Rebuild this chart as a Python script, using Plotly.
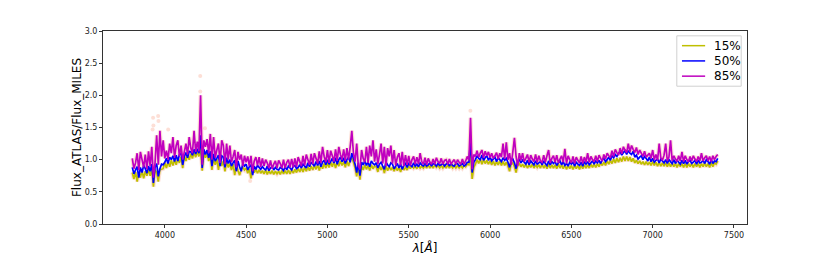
import numpy as np
import plotly.graph_objects as go

# wavelength grid, 10 A steps from 3800 to 7400
wave = np.arange(3800, 7401, 10)

# percentile ratios, one row per 100 A
p50 = [
    0.88, 0.78, 0.84, 0.89, 0.72, 0.88, 0.80, 0.91, 0.86, 0.79,
    0.90, 0.82, 0.93, 0.64, 0.88, 0.94, 0.74, 0.86, 0.93, 0.92,
    0.96, 1.02, 0.94, 1.04, 1.00, 1.06, 0.97, 1.07, 0.98, 1.08,
    1.10, 0.92, 1.05, 1.11, 1.03, 1.13, 1.12, 1.07, 1.16, 1.09,
    1.17, 1.10, 1.38, 0.87, 1.16, 1.08, 1.15, 1.03, 1.13, 0.90,
    1.09, 0.98, 1.02, 1.07, 0.90, 1.06, 1.04, 0.88, 1.03, 0.94,
    1.00, 0.90, 0.95, 0.99, 0.82, 0.98, 0.89, 0.82, 0.94, 0.90,
    0.93, 0.84, 0.89, 0.92, 0.76, 0.90, 0.85, 0.91, 0.88, 0.85,
    0.89, 0.86, 0.84, 0.90, 0.83, 0.87, 0.89, 0.84, 0.88, 0.85,
    0.84, 0.88, 0.86, 0.83, 0.89, 0.84, 0.90, 0.87, 0.84, 0.90,
    0.91, 0.86, 0.88, 0.92, 0.87, 0.93, 0.90, 0.87, 0.95, 0.89,
    0.96, 0.93, 0.90, 0.97, 0.91, 0.98, 0.89, 0.96, 0.99, 0.92,
    1.00, 0.93, 0.97, 1.02, 0.95, 1.03, 0.93, 1.00, 1.04, 0.97,
    1.03, 0.94, 1.00, 1.04, 0.96, 1.10, 1.02, 0.93, 0.80, 0.95,
    0.75, 0.96, 0.92, 0.98, 0.91, 0.96, 0.89, 0.98, 0.94, 0.92,
    0.95, 0.87, 0.93, 0.96, 0.90, 0.85, 0.96, 0.92, 0.89, 0.95,
    0.93, 0.86, 0.90, 0.94, 0.87, 0.93, 0.85, 0.91, 0.94, 0.88,
    0.94, 0.91, 0.89, 0.95, 0.90, 0.93, 0.89, 0.95, 0.92, 0.90,
    0.94, 0.90, 0.92, 0.95, 0.90, 0.94, 0.93, 0.90, 0.94, 0.91,
    0.92, 0.94, 0.90, 0.93, 0.95, 0.90, 0.94, 0.91, 0.90, 0.94,
    0.94, 0.90, 0.92, 0.94, 0.90, 0.92, 0.96, 0.96, 1.30, 0.80,
    0.96, 1.00, 1.06, 1.02, 1.00, 1.07, 0.99, 1.03, 1.06, 0.99,
    1.04, 0.98, 1.01, 1.04, 0.97, 1.03, 1.00, 0.97, 1.03, 0.99,
    1.02, 0.96, 0.88, 0.99, 1.01, 0.95, 0.86, 0.98, 1.00, 0.95,
    0.99, 0.96, 0.93, 0.99, 0.92, 0.98, 0.95, 0.92, 0.98, 0.93,
    0.95, 0.97, 0.92, 0.98, 0.94, 0.91, 0.98, 0.92, 0.97, 0.94,
    0.97, 0.91, 0.95, 0.98, 0.92, 0.97, 0.91, 0.94, 0.90, 0.96,
    0.93, 0.96, 0.90, 0.96, 0.93, 0.91, 0.96, 0.90, 0.97, 0.93,
    0.97, 0.92, 0.95, 0.98, 0.93, 0.98, 0.95, 0.99, 0.94, 1.00,
    1.02, 0.97, 1.00, 1.04, 0.99, 1.06, 1.03, 1.08, 1.05, 1.10,
    1.12, 1.07, 1.11, 1.14, 1.08, 1.14, 1.10, 1.08, 1.13, 1.04,
    1.07, 1.01, 1.04, 1.06, 1.00, 1.05, 1.02, 0.98, 1.04, 0.97,
    1.02, 0.96, 0.99, 1.01, 0.95, 1.01, 0.98, 0.95, 1.00, 0.94,
    1.00, 0.97, 0.94, 1.00, 0.94, 0.99, 0.96, 0.93, 0.99, 0.94,
    0.99, 0.93, 0.97, 0.99, 0.94, 0.96, 0.99, 0.93, 0.99, 0.95,
    0.96, 0.99, 0.94, 1.00, 0.97, 0.93, 1.00, 0.94, 0.98, 0.97,
    1.02,
]

p85 = [
    1.02, 0.86, 0.95, 1.10, 0.84, 1.12, 1.00, 0.88, 1.08, 0.85,
    1.13, 0.90, 1.20, 0.72, 0.95, 1.38, 0.92, 1.45, 1.05, 1.30,
    1.02, 1.14, 1.00, 1.25, 1.10, 1.35, 1.03, 1.22, 1.30, 1.05,
    1.22, 1.00, 1.12, 1.25, 1.08, 1.35, 1.18, 1.10, 1.45, 1.12,
    1.28, 1.13, 2.00, 0.92, 1.30, 1.20, 1.32, 1.10, 1.40, 1.00,
    1.35, 1.03, 1.15, 1.25, 0.95, 1.30, 1.22, 0.93, 1.25, 1.00,
    1.22, 0.96, 1.05, 1.15, 0.88, 1.12, 1.00, 1.08, 0.90, 1.06,
    0.96, 1.05, 0.90, 1.06, 0.82, 0.98, 1.04, 0.91, 1.04, 0.89,
    1.02, 0.90, 1.00, 0.95, 0.87, 0.99, 0.86, 0.93, 0.98, 0.87,
    0.99, 0.94, 0.87, 1.00, 0.87, 0.96, 1.00, 0.88, 1.01, 0.88,
    1.02, 0.89, 1.04, 0.97, 0.90, 1.06, 0.91, 1.08, 1.00, 0.92,
    1.09, 0.93, 1.10, 1.02, 0.94, 1.13, 0.95, 1.20, 1.05, 0.96,
    1.15, 0.95, 1.14, 1.06, 0.97, 1.16, 0.98, 1.20, 1.08, 1.00,
    1.16, 0.98, 1.18, 1.00, 1.20, 1.45, 1.10, 0.97, 1.25, 0.90,
    0.85, 1.15, 1.02, 0.96, 1.20, 0.95, 1.22, 1.05, 1.30, 0.97,
    1.16, 0.93, 1.08, 1.25, 0.94, 1.20, 0.90, 1.18, 1.05, 1.22,
    0.94, 1.15, 0.91, 1.04, 1.10, 0.91, 1.12, 0.90, 1.07, 0.92,
    1.06, 0.91, 1.00, 1.05, 0.93, 1.04, 0.93, 1.10, 0.97, 0.93,
    1.03, 0.92, 1.02, 0.96, 0.93, 1.01, 0.93, 1.03, 0.97, 0.94,
    1.02, 0.93, 0.99, 1.00, 0.93, 1.01, 0.93, 0.97, 1.00, 0.93,
    1.00, 0.96, 0.93, 1.01, 0.93, 0.98, 1.05, 0.99, 1.65, 0.85,
    1.08, 1.05, 1.14, 1.04, 1.10, 1.15, 1.03, 1.13, 1.06, 1.12,
    1.03, 1.10, 1.02, 1.06, 1.11, 1.01, 1.10, 1.04, 1.25, 1.01,
    1.27, 1.00, 1.10, 0.92, 1.12, 1.34, 1.05, 0.90, 1.10, 0.99,
    1.10, 0.97, 1.02, 1.08, 0.96, 1.07, 1.01, 0.97, 1.08, 0.96,
    1.06, 0.98, 0.96, 1.07, 0.96, 1.06, 1.15, 0.95, 1.02, 1.06,
    0.96, 1.07, 0.95, 1.01, 1.06, 0.96, 1.17, 0.94, 1.06, 1.00,
    0.95, 1.05, 0.94, 1.04, 0.99, 0.95, 1.05, 0.94, 1.04, 0.96,
    1.10, 0.96, 1.05, 1.00, 0.97, 1.06, 0.97, 1.07, 1.02, 0.98,
    1.08, 1.01, 1.10, 1.06, 1.03, 1.14, 1.05, 1.16, 1.11, 1.07,
    1.18, 1.09, 1.20, 1.15, 1.11, 1.25, 1.12, 1.22, 1.16, 1.11,
    1.19, 1.08, 1.15, 1.10, 1.05, 1.13, 1.04, 1.07, 1.10, 1.02,
    1.15, 1.00, 1.08, 0.99, 1.25, 1.03, 0.99, 1.07, 1.25, 0.98,
    1.04, 1.30, 0.98, 1.06, 1.01, 0.97, 1.06, 0.98, 1.12, 0.97,
    1.06, 1.00, 0.97, 1.05, 0.98, 1.06, 1.01, 0.97, 1.05, 0.98,
    1.10, 0.98, 1.03, 1.06, 0.98, 1.05, 0.97, 1.06, 1.00, 1.05,
    1.08,
]

p15 = [
    0.80, 0.70, 0.81, 0.66, 0.80, 0.72, 0.83, 0.71, 0.82, 0.75,
    0.85, 0.75, 0.86, 0.58, 0.84, 0.80, 0.66, 0.84, 0.85, 0.86,
    0.95, 0.87, 0.97, 0.89, 0.99, 0.91, 1.00, 0.92, 1.02, 0.95,
    1.04, 0.87, 1.06, 0.98, 1.08, 1.00, 1.09, 1.02, 1.11, 1.04,
    1.12, 1.05, 1.20, 0.83, 1.11, 1.03, 1.10, 0.98, 1.07, 0.84,
    1.03, 0.92, 1.01, 0.84, 1.00, 0.90, 0.98, 0.82, 0.97, 0.88,
    0.94, 0.84, 0.93, 0.76, 0.92, 0.83, 0.76, 0.85, 0.88, 0.84,
    0.87, 0.79, 0.86, 0.71, 0.86, 0.80, 0.85, 0.79, 0.84, 0.79,
    0.83, 0.78, 0.84, 0.77, 0.83, 0.78, 0.83, 0.77, 0.82, 0.78,
    0.82, 0.77, 0.83, 0.78, 0.83, 0.78, 0.84, 0.78, 0.84, 0.79,
    0.85, 0.80, 0.86, 0.81, 0.87, 0.81, 0.88, 0.82, 0.89, 0.83,
    0.90, 0.84, 0.91, 0.85, 0.92, 0.83, 0.93, 0.86, 0.94, 0.87,
    0.95, 0.88, 0.96, 0.89, 0.97, 0.87, 0.96, 0.90, 0.98, 0.91,
    0.97, 0.88, 0.98, 0.90, 0.99, 1.03, 0.96, 0.87, 0.74, 0.89,
    0.69, 0.90, 0.84, 0.92, 0.85, 0.91, 0.83, 0.92, 0.86, 0.90,
    0.89, 0.81, 0.90, 0.84, 0.90, 0.79, 0.90, 0.83, 0.89, 0.84,
    0.88, 0.82, 0.89, 0.83, 0.88, 0.81, 0.89, 0.84, 0.88, 0.84,
    0.90, 0.86, 0.91, 0.87, 0.90, 0.86, 0.91, 0.87, 0.90, 0.87,
    0.91, 0.87, 0.92, 0.87, 0.91, 0.87, 0.92, 0.88, 0.91, 0.87,
    0.91, 0.87, 0.91, 0.87, 0.92, 0.87, 0.91, 0.87, 0.91, 0.87,
    0.91, 0.87, 0.91, 0.87, 0.91, 0.89, 0.93, 0.92, 1.10, 0.70,
    0.88, 0.93, 1.00, 0.94, 1.01, 0.93, 1.00, 0.94, 0.99, 0.93,
    0.98, 0.92, 0.98, 0.91, 0.97, 0.92, 0.98, 0.91, 0.97, 0.91,
    0.96, 0.90, 0.82, 0.93, 0.95, 0.89, 0.80, 0.92, 0.94, 0.89,
    0.93, 0.88, 0.93, 0.87, 0.92, 0.88, 0.93, 0.87, 0.92, 0.88,
    0.92, 0.87, 0.93, 0.87, 0.92, 0.86, 0.93, 0.87, 0.92, 0.87,
    0.92, 0.86, 0.93, 0.87, 0.92, 0.86, 0.92, 0.85, 0.91, 0.86,
    0.91, 0.85, 0.91, 0.86, 0.91, 0.85, 0.91, 0.86, 0.92, 0.87,
    0.92, 0.87, 0.93, 0.88, 0.93, 0.88, 0.94, 0.89, 0.95, 0.91,
    0.96, 0.91, 0.98, 0.93, 0.99, 0.94, 1.01, 0.95, 1.02, 0.96,
    1.03, 0.97, 1.05, 0.98, 1.05, 0.98, 1.04, 0.97, 1.02, 0.95,
    0.99, 0.94, 0.98, 0.93, 0.97, 0.92, 0.97, 0.92, 0.96, 0.91,
    0.97, 0.91, 0.96, 0.90, 0.96, 0.90, 0.95, 0.90, 0.95, 0.89,
    0.95, 0.89, 0.95, 0.89, 0.94, 0.88, 0.94, 0.89, 0.94, 0.88,
    0.94, 0.88, 0.94, 0.89, 0.94, 0.88, 0.94, 0.89, 0.94, 0.88,
    0.94, 0.89, 0.95, 0.89, 0.94, 0.88, 0.95, 0.89, 0.95, 0.93,
    0.98,
]

# scattered individual points standing clear of the band
out_wave = [3925, 3928, 3930, 3959, 3961, 4021, 4218, 4218, 4247, 4525, 5879]
out_flux = [1.47, 1.65, 1.53, 1.68, 1.60, 1.47, 2.30, 2.06, 1.49, 0.67, 1.76]

labels = ['15%', '50%', '85%']
colors = ['#bfbf00', '#0000ff', '#bf00bf']

halo = 'rgba(250,150,120,0.30)'

fig = go.Figure()
for series in (p85, p15):
    fig.add_trace(go.Scatter(x=wave, y=series, mode='lines',
                             line=dict(color=halo, width=4, simplify=False),
                             hoverinfo='skip'))
fig.add_trace(go.Scatter(x=out_wave, y=out_flux, mode='markers',
                         marker=dict(color=halo, size=4), hoverinfo='skip'))

for series, name, col in zip((p15, p50, p85), labels, colors):
    fig.add_trace(go.Scatter(x=wave, y=series, mode='lines', name=name,
                             line=dict(color=col, width=1.7, simplify=False)))

# matplotlib-like legend box drawn in the upper right corner
fig.add_shape(type='rect', xref='paper', yref='paper',
              x0=0.891, x1=0.991, y0=0.714, y1=0.975,
              line=dict(color='#d0d0d0', width=1), fillcolor='rgba(255,255,255,0.8)')
for i, (name, col) in enumerate(zip(labels, colors)):
    ypos = 0.924 - i * 0.079
    fig.add_shape(type='line', xref='paper', yref='paper',
                  x0=0.899, x1=0.935, y0=ypos, y1=ypos,
                  line=dict(color=col, width=1.5))
    fig.add_annotation(xref='paper', yref='paper', x=0.946, y=ypos,
                       text=name, showarrow=False, xanchor='left', yanchor='middle',
                       font=dict(size=12, color='#000'))

axis_style = dict(showline=True, linecolor='#333', linewidth=1, mirror=True,
                  showgrid=False, zeroline=False, ticks='outside', ticklen=3,
                  tickcolor='#333', tickfont=dict(size=8, color='#222'))

fig.update_layout(
    width=830, height=260,
    margin=dict(l=103, r=83, t=31, b=33),
    paper_bgcolor='white', plot_bgcolor='white',
    font=dict(family='DejaVu Sans', color='#000'),
    showlegend=False,
    xaxis=dict(range=[3620, 7580], tickvals=[4000, 4500, 5000, 5500, 6000, 6500, 7000, 7500],
               title=dict(text='<i>λ</i>[<i>Å</i>]', font=dict(size=12), standoff=0),
               **axis_style),
    yaxis=dict(range=[0, 3], tickvals=[0, 0.5, 1, 1.5, 2, 2.5, 3],
               tickformat='.1f',
               title=dict(text='Flux_ATLAS/Flux_MILES', font=dict(size=12), standoff=0),
               **axis_style),
)

# drop the page's default body margin so the figure sits flush in the window
fig.write_html("out.html", config={'displayModeBar': False},
               post_script="document.body.style.margin='0';")
